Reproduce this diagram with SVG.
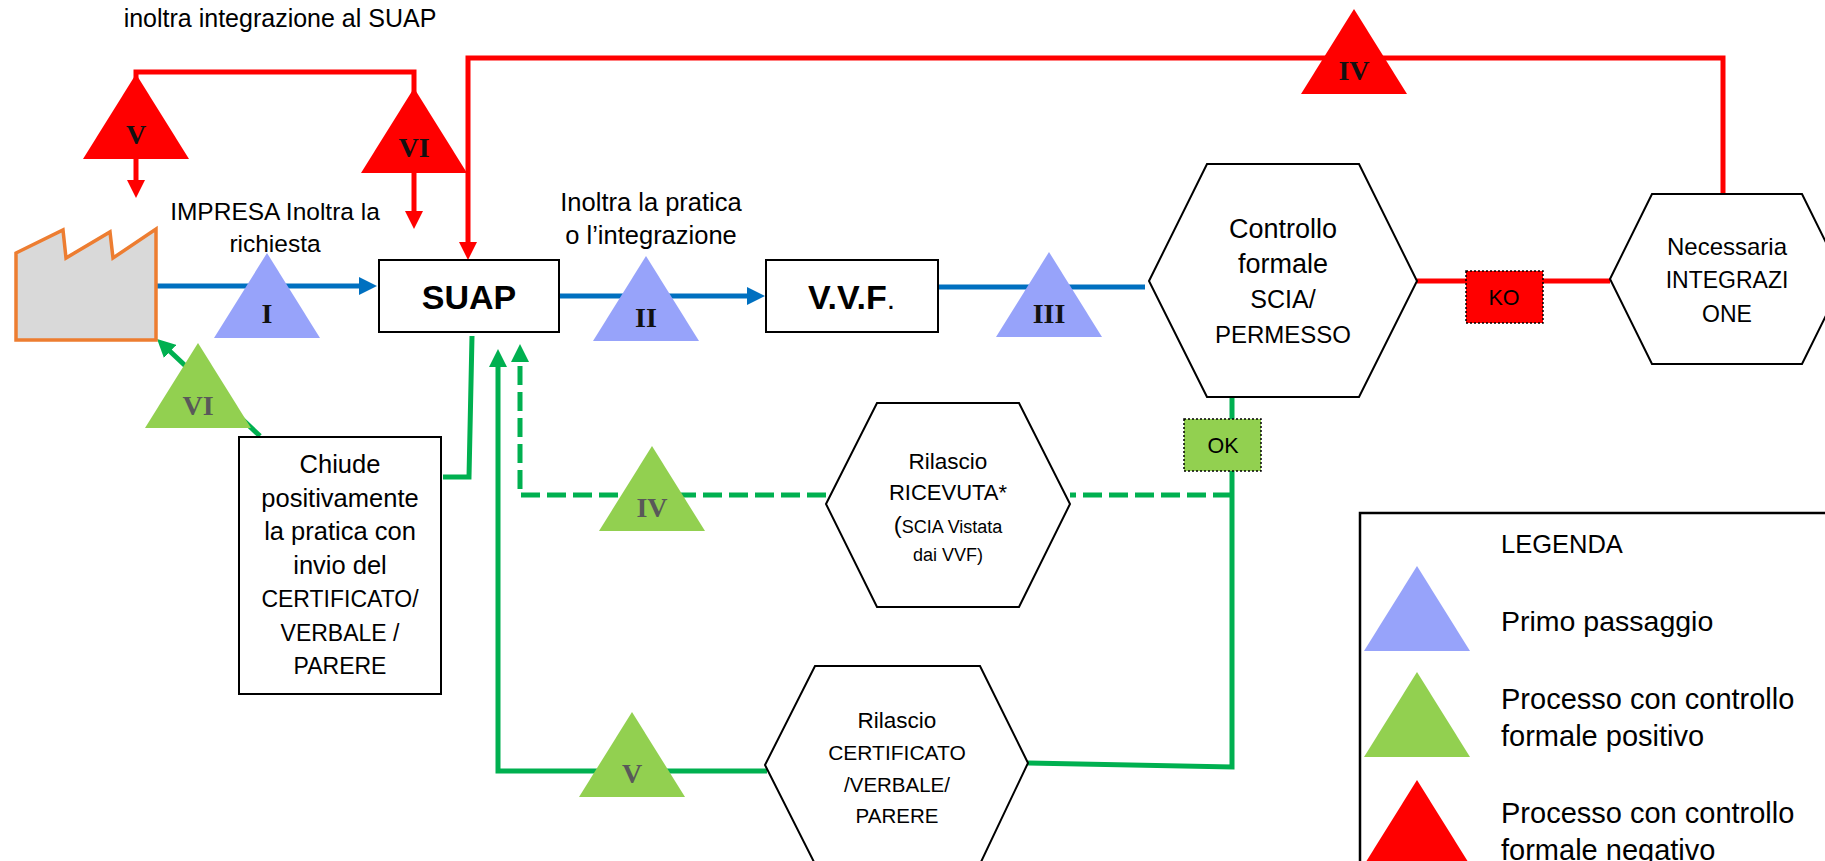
<svg xmlns="http://www.w3.org/2000/svg" xmlns:xlink="http://www.w3.org/1999/xlink" width="1825" height="861" viewBox="0 0 1825 861">
<style>
text{font-family:"Liberation Sans",Arial,sans-serif;fill:#000;}
.c{text-anchor:middle;}
.box{fill:#fff;stroke:#000;stroke-width:2;}
.hex{fill:#fff;stroke:#000;stroke-width:2;}
.lb{fill:none;stroke:#0070C0;stroke-width:5;}
.lr{fill:none;stroke:#FF0000;stroke-width:5;}
.lg{fill:none;stroke:#00B050;stroke-width:5;}
.dash{stroke-dasharray:19 7;}
.tb{fill:#97A3FA;}
.tg{fill:#92D050;}
.tr{fill:#FF0000;}
.rn{font-family:"Liberation Serif","Times New Roman",serif;font-weight:bold;font-size:28px;text-anchor:middle;fill:#111;}
.rng{fill:#595959;}
</style>
<defs>
<path id="tri" d="M0,0 L53,85 L-53,85 Z"/>
<marker id="ab" markerUnits="userSpaceOnUse" viewBox="0 0 18 18" markerWidth="18" markerHeight="18" refX="1" refY="9" orient="auto"><path d="M0,0 L18,9 L0,18 Z" fill="#0070C0"/></marker>
<marker id="ar" markerUnits="userSpaceOnUse" viewBox="0 0 18 18" markerWidth="18" markerHeight="18" refX="1" refY="9" orient="auto"><path d="M0,0 L18,9 L0,18 Z" fill="#FF0000"/></marker>
<marker id="ag" markerUnits="userSpaceOnUse" viewBox="0 0 18 18" markerWidth="18" markerHeight="18" refX="1" refY="9" orient="auto"><path d="M0,0 L18,9 L0,18 Z" fill="#00B050"/></marker>
</defs>
<rect width="1825" height="861" fill="#fff"/>

<g id="connectors">
<path class="lb" d="M152,286 H360" marker-end="url(#ab)"/>
<path class="lb" d="M559,296 H748" marker-end="url(#ab)"/>
<path class="lb" d="M938,287 H1145"/>
<path class="lr" d="M1417,281 H1610"/>
<path class="lr" d="M1723,201 V58 H468 V243" marker-end="url(#ar)"/>
<path class="lr" d="M136,80 V72 H414 V95"/>
<path class="lr" d="M136,157 V181" marker-end="url(#ar)"/>
<path class="lr" d="M414,171 V212" marker-end="url(#ar)"/>
<path class="lg" d="M472,336 L469,477 H443"/>
<path class="lg" d="M260,436 L169.4,350.7" marker-end="url(#ag)"/>
<path class="lg" d="M1232,397 V767 L1028,763"/>
<path class="lg" d="M767,771 H498 V366" marker-end="url(#ag)"/>
<path class="lg dash" d="M1232,495 H1070"/>
<path class="lg dash" d="M826,495 H520 V361" marker-end="url(#ag)"/>
</g>

<g id="title">
<text class="c" x="280" y="27" font-size="25">inoltra integrazione al SUAP</text>
</g>

<g id="impresa">
<polygon points="16,253 63,230 66,258 110,232 113,258 156,229 156,340 16,340" fill="#D9D9D9" stroke="#ED7D31" stroke-width="3.5"/>
<text class="c" x="275" y="220" font-size="24.5">IMPRESA Inoltra la</text>
<text class="c" x="275" y="252" font-size="24.5">richiesta</text>
</g>

<g id="suap">
<rect class="box" x="379" y="260" width="180" height="72"/>
<text class="c" x="469" y="309" font-size="34" font-weight="bold">SUAP</text>
</g>

<g id="inoltra-label">
<text class="c" x="651" y="211" font-size="25.5">Inoltra la pratica</text>
<text class="c" x="651" y="244" font-size="25.5">o l’integrazione</text>
</g>

<g id="vvf">
<rect class="box" x="766" y="260" width="172" height="72"/>
<text x="808" y="309" font-size="34"><tspan font-weight="bold">V.V.F</tspan><tspan font-size="30">.</tspan></text>
</g>

<g id="controllo">
<polygon class="hex" points="1149,281 1207,164 1359,164 1417,281 1359,397 1207,397"/>
<text class="c" x="1283" y="238" font-size="27">Controllo</text>
<text class="c" x="1283" y="273" font-size="27">formale</text>
<text class="c" x="1283" y="308" font-size="25">SCIA/</text>
<text class="c" x="1283" y="343" font-size="24">PERMESSO</text>
</g>

<g id="ko">
<rect x="1466" y="271" width="77" height="52" fill="#FF0000" stroke="#000" stroke-width="1.5" stroke-dasharray="2 2"/>
<text class="c" x="1504" y="305" font-size="21.5">KO</text>
</g>

<g id="necessaria">
<polygon class="hex" points="1610,279 1652,194 1802,194 1844,279 1802,364 1652,364"/>
<text class="c" x="1727" y="255" font-size="24">Necessaria</text>
<text class="c" x="1727" y="288" font-size="23">INTEGRAZI</text>
<text class="c" x="1727" y="322" font-size="23">ONE</text>
</g>

<g id="ok">
<rect x="1184" y="419" width="77" height="52" fill="#92D050" stroke="#000" stroke-width="1.5" stroke-dasharray="2 2"/>
<text class="c" x="1223" y="453" font-size="21.5">OK</text>
</g>

<g id="chiude">
<rect class="box" x="239" y="437" width="202" height="257"/>
<text class="c" x="340" y="473" font-size="25.5">Chiude</text>
<text class="c" x="340" y="507" font-size="25.5">positivamente</text>
<text class="c" x="340" y="540" font-size="25.5">la pratica con</text>
<text class="c" x="340" y="574" font-size="25.5">invio del</text>
<text class="c" x="340" y="607" font-size="23">CERTIFICATO/</text>
<text class="c" x="340" y="641" font-size="23">VERBALE /</text>
<text class="c" x="340" y="674" font-size="23">PARERE</text>
</g>

<g id="ricevuta">
<polygon class="hex" points="826,504 877,403 1019,403 1070,504 1019,607 877,607"/>
<text class="c" x="948" y="469" font-size="22.5">Rilascio</text>
<text class="c" x="948" y="500" font-size="22">RICEVUTA*</text>
<text class="c" x="948" y="533" font-size="18"><tspan font-size="24">(</tspan>SCIA Vistata</text>
<text class="c" x="948" y="561" font-size="18">dai VVF)</text>
</g>

<g id="certificato">
<polygon class="hex" points="765,765 815,666 980,666 1028,763 980,864 815,864"/>
<text class="c" x="897" y="728" font-size="22.5">Rilascio</text>
<text class="c" x="897" y="760" font-size="21">CERTIFICATO</text>
<text class="c" x="897" y="792" font-size="20.5">/VERBALE/</text>
<text class="c" x="897" y="823" font-size="20.5">PARERE</text>
</g>

<g id="tri-blue-I"><use xlink:href="#tri" href="#tri" x="267" y="253" class="tb"/><text class="rn" x="267" y="323">I</text></g>
<g id="tri-blue-II"><use xlink:href="#tri" href="#tri" x="646" y="256" class="tb"/><text class="rn" x="646" y="327">II</text></g>
<g id="tri-blue-III"><use xlink:href="#tri" href="#tri" x="1049" y="252" class="tb"/><text class="rn" x="1049" y="323">III</text></g>
<g id="tri-green-IV"><use xlink:href="#tri" href="#tri" x="652" y="446" class="tg"/><text class="rn rng" x="652" y="517">IV</text></g>
<g id="tri-green-V"><use xlink:href="#tri" href="#tri" x="632" y="712" class="tg"/><text class="rn rng" x="632" y="783" font-size="17">V</text></g>
<g id="tri-green-VI"><use xlink:href="#tri" href="#tri" x="198" y="343" class="tg"/><text class="rn rng" x="198" y="415">VI</text></g>
<g id="tri-red-IV"><use xlink:href="#tri" href="#tri" x="1354" y="9" class="tr"/><text class="rn" x="1354" y="80">IV</text></g>
<g id="tri-red-V"><use xlink:href="#tri" href="#tri" x="136" y="74" class="tr"/><text class="rn" x="136" y="144">V</text></g>
<g id="tri-red-VI"><use xlink:href="#tri" href="#tri" x="414" y="88" class="tr"/><text class="rn" x="414" y="157">VI</text></g>

<g id="legenda">
<rect x="1360" y="513" width="500" height="400" fill="#fff" stroke="#000" stroke-width="2.5"/>
<text x="1501" y="553" font-size="25.5">LEGENDA</text>
<use xlink:href="#tri" href="#tri" x="1417" y="566" class="tb"/>
<text x="1501" y="631" font-size="28.5">Primo passaggio</text>
<use xlink:href="#tri" href="#tri" x="1417" y="672" class="tg"/>
<text x="1501" y="709" font-size="29">Processo con controllo</text>
<text x="1501" y="746" font-size="29">formale positivo</text>
<use xlink:href="#tri" href="#tri" x="1417" y="780" class="tr"/>
<text x="1501" y="823" font-size="29">Processo con controllo</text>
<text x="1501" y="860" font-size="29">formale negativo</text>
</g>
</svg>
